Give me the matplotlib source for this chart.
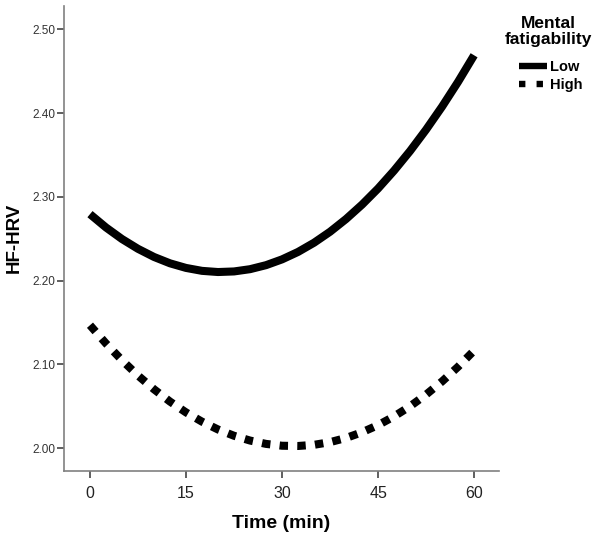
import matplotlib.pyplot as plt
from matplotlib.lines import Line2D

plt.rcParams['font.family'] = ['Liberation Sans', 'DejaVu Sans']

# time points (min) and fitted HF-HRV values
time_min = [0, 2.5, 5, 7.5, 10, 12.5, 15, 17.5, 20, 22.5, 25, 27.5, 30,
            32.5, 35, 37.5, 40, 42.5, 45, 47.5, 50, 52.5, 55, 57.5, 60]
low_fatigue = [2.2795, 2.2636, 2.2498, 2.2381, 2.2284, 2.2208, 2.2153,
               2.2118, 2.2104, 2.2111, 2.2138, 2.2186, 2.2255, 2.2344,
               2.2454, 2.2585, 2.2737, 2.2909, 2.3101, 2.3315, 2.3549,
               2.3804, 2.4079, 2.4375, 2.4692]
high_fatigue = [2.1469, 2.1251, 2.1051, 2.0868, 2.0704, 2.0557, 2.0428,
                2.0317, 2.0224, 2.0149, 2.0092, 2.0052, 2.0030, 2.0027,
                2.0041, 2.0073, 2.0123, 2.0191, 2.0276, 2.0380, 2.0501,
                2.0641, 2.0798, 2.0973, 2.1166]
groups = ['Low', 'High']
x_ticks = [0, 15, 30, 45, 60]
y_ticks = [2.00, 2.10, 2.20, 2.30, 2.40, 2.50]


def main():
    fig = plt.figure(figsize=(6.02, 5.38), dpi=100)
    ax = fig.add_axes([0.1063, 0.1251, 0.7227, 0.8637])

    lw = 5.8
    ax.plot(time_min, low_fatigue, color='black', lw=lw,
            solid_capstyle='butt', solid_joinstyle='round')
    ax.plot(time_min, high_fatigue, color='black', lw=lw,
            dashes=(1.05, 1.15), dash_capstyle='butt', dash_joinstyle='round')

    ax.set_xlim(-4.06, 63.9)
    ax.set_ylim(1.9732, 2.528)
    ax.set_xticks(x_ticks)
    ax.set_yticks(y_ticks)
    ax.set_yticklabels([f'{v:.2f}' for v in y_ticks])

    for side in ['top', 'right']:
        ax.spines[side].set_visible(False)
    for side in ['left', 'bottom']:
        ax.spines[side].set_color('#808080')
        ax.spines[side].set_linewidth(1.2)

    ax.tick_params(axis='x', length=5, width=1.2, color='#444444',
                   labelsize=11.5, labelcolor='#222222', pad=6)
    ax.tick_params(axis='y', length=5, width=1.2, color='#444444',
                   labelsize=8.5, labelcolor='#333333', pad=1)

    ax.set_xlabel('Time (min)', fontsize=14, fontweight='bold', labelpad=10)
    ax.set_ylabel('HF-HRV', fontsize=13.5, fontweight='bold', labelpad=7)

    # legend title drawn on its own so it can sit higher above the entries
    fig.text(548 / 602, 1 - 16 / 538, 'Mental\nfatigability', ha='center',
             va='top', fontsize=12.5, fontweight='bold', linespacing=1.05)
    handles = [Line2D([], [], color='black', lw=4.6, solid_capstyle='butt'),
               Line2D([], [], color='black', lw=4.6, dashes=(1.0, 1.75),
                      dash_capstyle='butt')]
    fig.legend(handles, groups, loc='upper left',
               bbox_to_anchor=(519 / 602, 1 - 60 / 538),
               frameon=False, handlelength=1.9, handletextpad=0.25,
               labelspacing=0.3, borderaxespad=0, borderpad=0,
               prop={'size': 10.5, 'weight': 'bold'})

    fig.savefig('out.png', dpi=100)


if __name__ == '__main__':
    main()
